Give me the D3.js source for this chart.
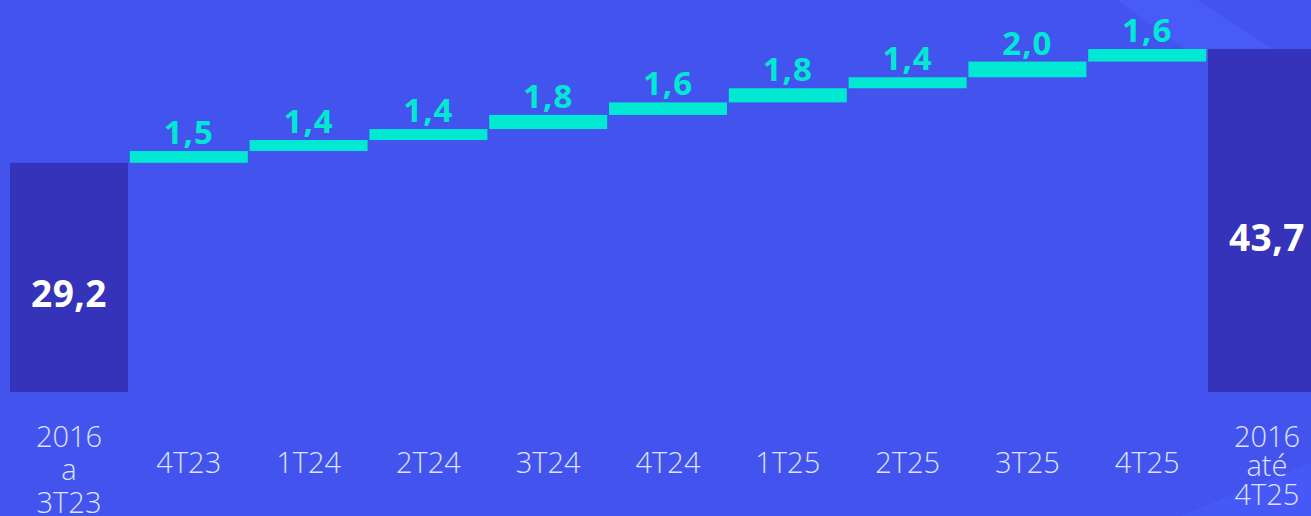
<!DOCTYPE html>
<html>
<head>
<meta charset="utf-8">
<script src="https://cdn.jsdelivr.net/npm/d3@7"></script>
<style>
  html, body { margin: 0; padding: 0; background: #4354ee; overflow: hidden; }
  #chart svg { display: block; }
</style>
</head>
<body>
<div id="chart"></div>
<script>

// ==== data ====
const categories = ["2016|a|3T23", "4T23", "1T24", "2T24", "3T24", "4T24", "1T25", "2T25", "3T25", "4T25", "2016|até|4T25"];
const kinds      = ["total", "step", "step", "step", "step", "step", "step", "step", "step", "step", "total"];
const values     = [29.2, 1.5, 1.4, 1.4, 1.8, 1.6, 1.8, 1.4, 2.0, 1.6, 43.7];

const width  = 1311;
const height = 516;

const ptBR = d3.formatLocale({ decimal: ",", thousands: ".", grouping: [3], currency: ["R$", ""] });
const fmt = ptBR.format(".1f");

// build waterfall start/end
let running = 0;
const rows = categories.map((c, i) => {
  let y0, y1;
  if (kinds[i] === "total") { y0 = 0; y1 = values[i]; running = values[i]; }
  else { y0 = running; y1 = running + values[i]; running = y1; }
  return { cat: c, kind: kinds[i], value: values[i], y0, y1, idx: i };
});

const svg = d3.select("#chart")
  .append("svg")
    .attr("width", width)
    .attr("height", height);

// background + faint diagonal decorations
svg.append("rect").attr("width", width).attr("height", height).attr("fill", "#4354ee");
svg.append("polygon")
  .attr("points", "1117,0 1197,0 1290,60 1200,60")
  .attr("fill", "#4a5cf8").attr("opacity", 0.8);
svg.append("polygon")
  .attr("points", "1180,516 1311,463 1311,516")
  .attr("fill", "#4759f6").attr("opacity", 0.8);

// ==== scales ====
const x = d3.scaleBand()
  .domain(categories)
  .range([10, 1326])
  .paddingInner(0.015)
  .paddingOuter(0);

const y = d3.scaleLinear()
  .domain([0, 43.7])
  .range([392, 49]);

// bars
svg.append("g")
  .selectAll("rect")
  .data(rows)
  .join("rect")
    .attr("x", d => x(d.cat))
    .attr("width", x.bandwidth())
    .attr("y", d => y(d.y1))
    .attr("height", d => y(d.y0) - y(d.y1))
    .attr("fill", d => d.kind === "total" ? "#3433b9" : "#02e9d3");

// value labels
const font = "'Open Sans', 'DejaVu Sans', sans-serif";
svg.append("g")
  .selectAll("text")
  .data(rows)
  .join("text")
    .attr("x", d => x(d.cat) + x.bandwidth() / 2)
    .attr("y", d => d.kind === "total" ? (y(d.y1) + y(d.y0)) / 2 + 30 : y(d.y1) - 7)
    .attr("text-anchor", "middle")
    .attr("font-family", font)
    .attr("font-weight", 700)
    .attr("font-size", d => d.kind === "total" ? 37 : 33)
    .attr("letter-spacing", d => d.kind === "total" ? 0.5 : 1)
    .attr("fill", d => d.kind === "total" ? "#ffffff" : "#02e9d3")
    .text(d => fmt(d.value));

// category labels (no axis line, like the original)
const catG = svg.append("g")
  .selectAll("text")
  .data(rows)
  .join("text")
    .attr("x", d => x(d.cat) + x.bandwidth() / 2)
    .attr("text-anchor", "middle")
    .attr("font-family", font)
    .attr("font-weight", 300)
    .attr("font-size", 29)
    .attr("fill", "#dfe3ff");

catG.each(function(d) {
  const lines = d.cat.split("|");
  const t = d3.select(this);
  if (lines.length === 1) {
    t.attr("y", 473).text(lines[0]);
  } else {
    const gap = d.idx === 0 ? 33 : 29;
    t.attr("y", 447);
    lines.forEach((ln, i) => {
      t.append("tspan")
        .attr("x", x(d.cat) + x.bandwidth() / 2)
        .attr("dy", i === 0 ? 0 : gap)
        .text(ln);
    });
  }
});

</script>
</body>
</html>
